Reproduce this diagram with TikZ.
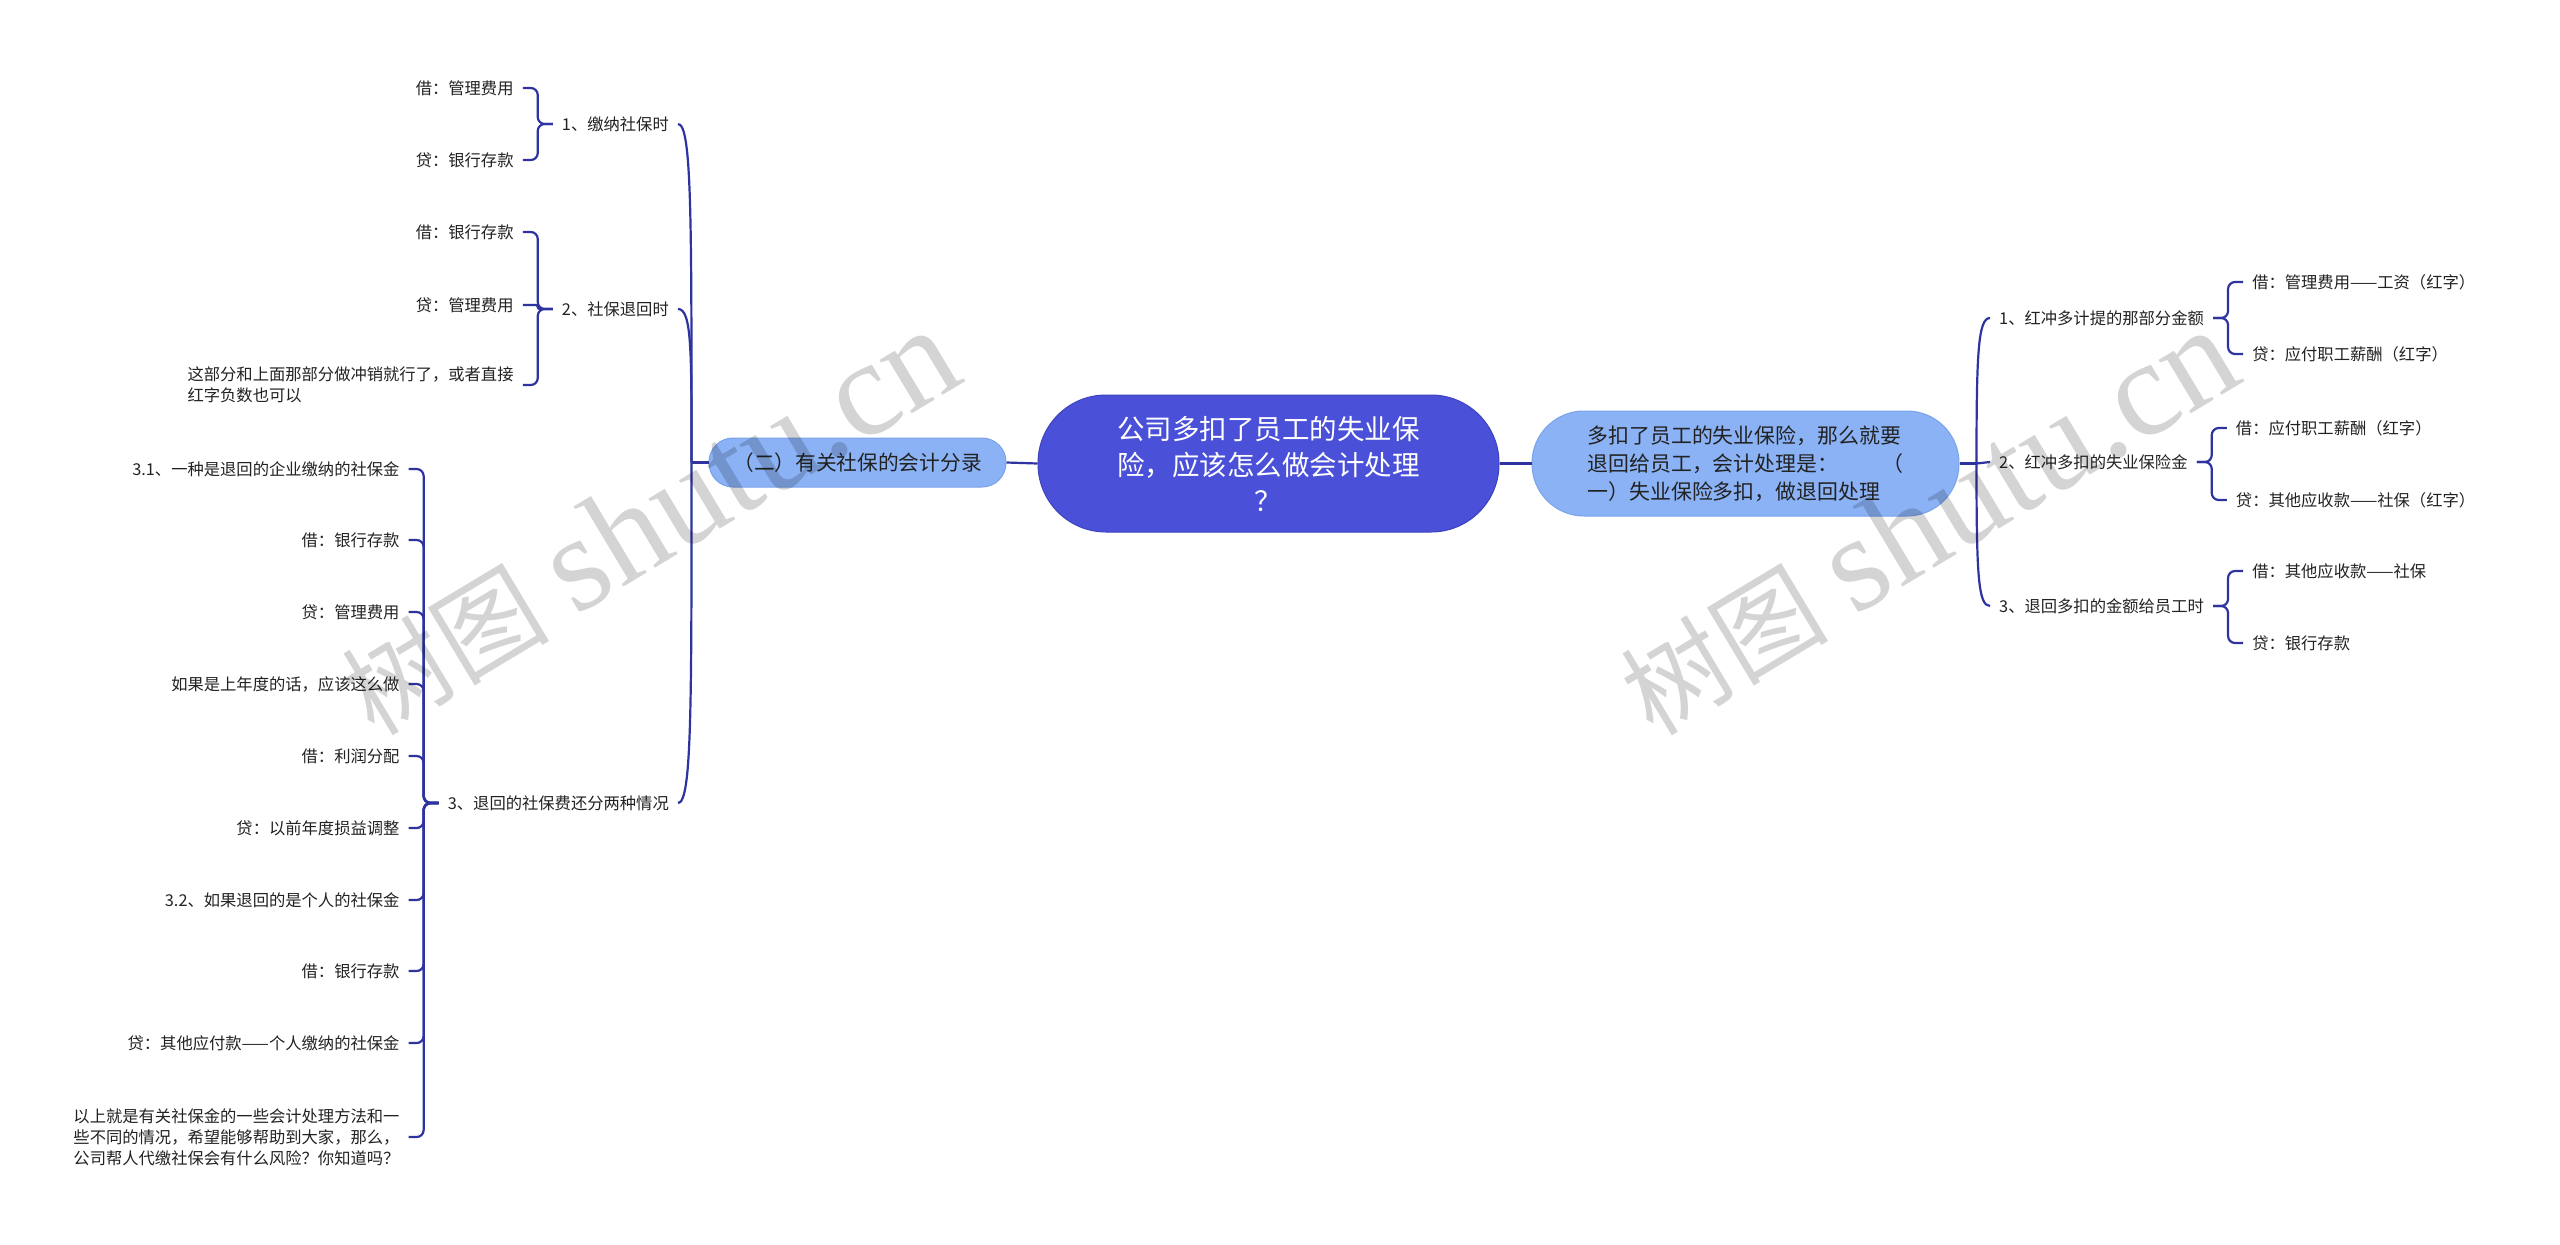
\documentclass[tikz,border=0pt]{standalone}
\usepackage{fontspec}
\setmainfont{Noto Sans CJK SC}
\newfontfamily\wmlatin{Liberation Serif}
\usetikzlibrary{calc}
\definecolor{conn}{HTML}{2E339F}
\definecolor{rootfill}{HTML}{4A50D8}
\definecolor{rootdraw}{HTML}{3D42BE}
\definecolor{subfill}{HTML}{8AB2F5}
\definecolor{subdraw}{HTML}{7AA2EA}
\definecolor{txt}{HTML}{222222}
\begin{document}
\begin{tikzpicture}[x=1pt,y=1pt,
  line/.style={draw=conn, line width=2.2pt},
  brk/.style={draw=conn, line width=2.2pt, rounded corners=7pt},
  lvl/.style={inner xsep=9pt, inner ysep=3pt, text=txt, font=\fontsize{16.3}{21.2}\selectfont},
  leafl/.style={lvl, anchor=east, align=left},
  leafr/.style={lvl, anchor=west, align=left},
  wm/.style={text=black, text opacity=0.17, rotate=31, inner sep=0pt}
]
\useasboundingbox[fill=white] (0,0) rectangle (2560,-1245);

% central and first level
\node[draw=rootdraw, fill=rootfill, line width=1pt, rounded corners=68pt,
      minimum width=461pt, minimum height=137pt, text=white, align=center,
      font=\fontsize{27.5}{36}\selectfont] (root) at (1268.5,-463.5)
  {公司多扣了员工的失业保\\险，应该怎么做会计处理\\？};
\node[draw=subdraw, fill=subfill, line width=1pt, rounded corners=24pt,
      minimum width=297pt, minimum height=49pt, text=txt,
      font=\fontsize{20.7}{26}\selectfont] (left) at (857.5,-462.5)
  {（二）有关社保的会计分录};
\node[draw=subdraw, fill=subfill, line width=1pt, rounded corners=52pt,
      minimum width=427pt, minimum height=105pt, text=txt, text width=316pt, align=left,
      font=\fontsize{20.9}{28}\selectfont] (right) at (1745.5,-463.5)
  {多扣了员工的失业保险，那么就要\\退回给员工，会计处理是：\hskip0pt plus1filll（\\一）失业保险多扣，做退回处理};
\draw[line] (root.west) -- (left.east);
\draw[line] (root.east) -- (right.west);

% left level 2
\node[lvl, anchor=east] (l1) at (678,-124) {1、缴纳社保时};
\node[lvl, anchor=east] (l2) at (678,-309) {2、社保退回时};
\node[lvl, anchor=east] (l3) at (678,-803) {3、退回的社保费还分两种情况};
\draw[line] (left.west) -- ++(-17,0) coordinate (lj);
\draw[line] (lj) .. controls +(0,240) and +(14,0) .. (l1.east);
\draw[line] (lj) .. controls +(0,110) and +(14,0) .. (l2.east);
\draw[line] (lj) .. controls +(0,-240) and +(14,0) .. (l3.east);

% left group 1
\node[leafl] (l11) at ([xshift=-30pt,yshift=36pt]l1.west) {借：管理费用};
\node[leafl] (l12) at ([xshift=-30pt,yshift=-36pt]l1.west) {贷：银行存款};
\draw[brk] (l1.west) -- ++(-15,0) |- (l11.east);
\draw[brk] (l1.west) -- ++(-15,0) |- (l12.east);

% left group 2
\node[leafl] (l21) at ([xshift=-30pt,yshift=77pt]l2.west) {借：银行存款};
\node[leafl] (l22) at ([xshift=-30pt,yshift=4pt]l2.west) {贷：管理费用};
\node[leafl] (l23) at ([xshift=-30pt,yshift=-76pt]l2.west) {这部分和上面那部分做冲销就行了，或者直接\\红字负数也可以};
\draw[brk] (l2.west) -- ++(-15,0) |- (l21.east);
\draw[brk, rounded corners=2pt] (l2.west) -- ++(-15,0) |- (l22.east);
\draw[brk] (l2.west) -- ++(-15,0) |- (l23.east);

% left group 3
\node[leafl] (l31) at ([xshift=-30pt,yshift=334pt]l3.west) {3.1、一种是退回的企业缴纳的社保金};
\node[leafl] (l32) at ([xshift=-30pt,yshift=263pt]l3.west) {借：银行存款};
\node[leafl] (l33) at ([xshift=-30pt,yshift=191pt]l3.west) {贷：管理费用};
\node[leafl] (l34) at ([xshift=-30pt,yshift=119pt]l3.west) {如果是上年度的话，应该这么做};
\node[leafl] (l35) at ([xshift=-30pt,yshift=47pt]l3.west) {借：利润分配};
\node[leafl] (l36) at ([xshift=-30pt,yshift=-25pt]l3.west) {贷：以前年度损益调整};
\node[leafl] (l37) at ([xshift=-30pt,yshift=-97pt]l3.west) {3.2、如果退回的是个人的社保金};
\node[leafl] (l38) at ([xshift=-30pt,yshift=-168pt]l3.west) {借：银行存款};
\node[leafl] (l39) at ([xshift=-30pt,yshift=-240pt]l3.west) {贷：其他应付款——个人缴纳的社保金};
\node[leafl] (l310) at ([xshift=-30pt,yshift=-334pt]l3.west) {以上就是有关社保金的一些会计处理方法和一\\些不同的情况，希望能够帮助到大家，那么，\\公司帮人代缴社保会有什么风险？你知道吗？};
\foreach \c in {l31,l32,l33,l34,l35,l36,l37,l38,l39,l310}
  \draw[brk] (l3.west) -- ++(-15,0) |- (\c.east);

% right level 2
\node[lvl, anchor=west] (r1) at (1990,-318) {1、红冲多计提的那部分金额};
\node[lvl, anchor=west] (r2) at (1990,-462) {2、红冲多扣的失业保险金};
\node[lvl, anchor=west] (r3) at (1990,-606) {3、退回多扣的金额给员工时};
\draw[line] (right.east) -- ++(17,0) coordinate (rj);
\draw[line] (rj) .. controls +(0,110) and +(-12,0) .. (r1.west);
\draw[line] (rj) -- (r2.west);
\draw[line] (rj) .. controls +(0,-110) and +(-12,0) .. (r3.west);

% right groups
\node[leafr] (r11) at ([xshift=30pt,yshift=36pt]r1.east) {借：管理费用——工资（红字）};
\node[leafr] (r12) at ([xshift=30pt,yshift=-36pt]r1.east) {贷：应付职工薪酬（红字）};
\node[leafr] (r21) at ([xshift=30pt,yshift=34pt]r2.east) {借：应付职工薪酬（红字）};
\node[leafr] (r22) at ([xshift=30pt,yshift=-38pt]r2.east) {贷：其他应收款——社保（红字）};
\node[leafr] (r31) at ([xshift=30pt,yshift=35pt]r3.east) {借：其他应收款——社保};
\node[leafr] (r32) at ([xshift=30pt,yshift=-37pt]r3.east) {贷：银行存款};
\draw[brk] (r1.east) -- ++(15,0) |- (r11.west);
\draw[brk] (r1.east) -- ++(15,0) |- (r12.west);
\draw[brk] (r2.east) -- ++(15,0) |- (r21.west);
\draw[brk] (r2.east) -- ++(15,0) |- (r22.west);
\draw[brk] (r3.east) -- ++(15,0) |- (r31.west);
\draw[brk] (r3.east) -- ++(15,0) |- (r32.west);

% watermarks
\node[wm] (wm1) at (649,-522) {{\fontsize{104}{104}\selectfont 树图}\hspace{27pt}{\wmlatin\fontsize{136}{136}\selectfont shutu.cn}};
\node[wm] (wm2) at (1928,-522) {{\fontsize{104}{104}\selectfont 树图}\hspace{27pt}{\wmlatin\fontsize{136}{136}\selectfont shutu.cn}};
\end{tikzpicture}
\end{document}
